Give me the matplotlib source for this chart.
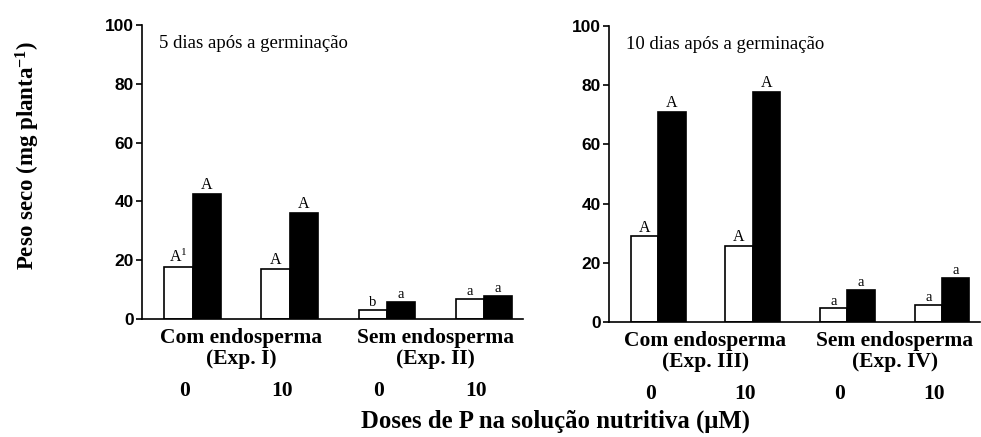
import numpy as np
import matplotlib
matplotlib.use("Agg")
import matplotlib.pyplot as plt

# dados
grupos = ["Com endosperma\n(Exp. I)", "Sem endosperma\n(Exp. II)"]
grupos_10 = ["Com endosperma\n(Exp. III)", "Sem endosperma\n(Exp. IV)"]
doses = ["0", "10", "0", "10"]
branco_5d = [17.6, 16.9, 3.0, 6.7]
preto_5d = [42.5, 36.0, 5.7, 7.7]
letras_branco_5d = ["A$^1$", "A", "b", "a"]
letras_preto_5d = ["A", "A", "a", "a"]
branco_10d = [28.9, 25.8, 4.6, 5.7]
preto_10d = [70.8, 77.6, 10.8, 14.9]
letras_branco_10d = ["A", "A", "a", "a"]
letras_preto_10d = ["A", "A", "a", "a"]

serif = "Liberation Serif"
sans = "Liberation Sans"
plt.rcParams["mathtext.fontset"] = "custom"
plt.rcParams["mathtext.rm"] = "Liberation Serif"
plt.rcParams["mathtext.it"] = "Liberation Serif:italic"
plt.rcParams["mathtext.bf"] = "Liberation Serif:bold"

fig = plt.figure(figsize=(9.81, 4.37), dpi=100)
ax1 = fig.add_axes([0.1448, 0.270, 0.388, 0.673])
ax2 = fig.add_axes([0.6208, 0.263, 0.378, 0.678])

def painel(ax, branco, preto, lb, lp, titulo, cats, xmax):
    x = np.arange(len(branco))
    w = 0.29
    ax.bar(x - w / 2, branco, w, color="white", edgecolor="black", linewidth=1.2)
    ax.bar(x + w / 2, preto, w, color="black", edgecolor="black", linewidth=1.2)
    for i in range(len(x)):
        fs_b = 11.5 if lb[i][0].isupper() else 10.5
        fs_p = 11.5 if lp[i][0].isupper() else 10.5
        ax.text(x[i] - w / 2, branco[i] + 0.3, lb[i], ha="center", va="bottom",
                family=serif, fontsize=fs_b)
        ax.text(x[i] + w / 2, preto[i] + 0.3, lp[i], ha="center", va="bottom",
                family=serif, fontsize=fs_p)
    ax.set_xlim(-0.52, xmax)
    ax.set_ylim(0, 100)
    ax.set_yticks([0, 20, 40, 60, 80, 100])
    ax.set_xticks([])
    ax.spines["top"].set_visible(False)
    ax.spines["right"].set_visible(False)
    ax.spines["left"].set_linewidth(1.2)
    ax.spines["bottom"].set_linewidth(1.2)
    ax.tick_params(axis="y", direction="out", length=4, width=1.2, pad=2)
    for t in ax.get_yticklabels():
        t.set_family(sans)
        t.set_fontweight("bold")
        t.set_fontsize(12.5)
    ax.text(0.045, 0.965, titulo, transform=ax.transAxes, ha="left", va="top",
            family=serif, fontsize=13.5)
    ax.text(0.5, -3, cats[0], ha="center", va="top", family=serif,
            fontweight="bold", fontsize=15.5, linespacing=1.1)
    ax.text(2.5, -3, cats[1], ha="center", va="top", family=serif,
            fontweight="bold", fontsize=15.5, linespacing=1.1)
    for i in range(len(x)):
        ax.text(x[i] - 0.08, -21, doses[i], ha="center", va="top", family=serif,
                fontweight="bold", fontsize=15.5)

painel(ax1, branco_5d, preto_5d, letras_branco_5d, letras_preto_5d,
       "5 dias após a germinação", grupos, 3.4)
painel(ax2, branco_10d, preto_10d, letras_branco_10d, letras_preto_10d,
       "10 dias após a germinação", grupos_10, 3.4)

fig.text(0.028, 0.645, r"Peso seco (mg planta$^{\mathbf{-1}}$)", rotation=90, ha="center",
         va="center", family=serif, fontweight="bold", fontsize=16.5)
fig.text(0.566, 0.035, "Doses de P na solução nutritiva (μM)", ha="center",
         va="center", family=serif, fontweight="bold", fontsize=17.8)

fig.savefig("out.png", dpi=100)
